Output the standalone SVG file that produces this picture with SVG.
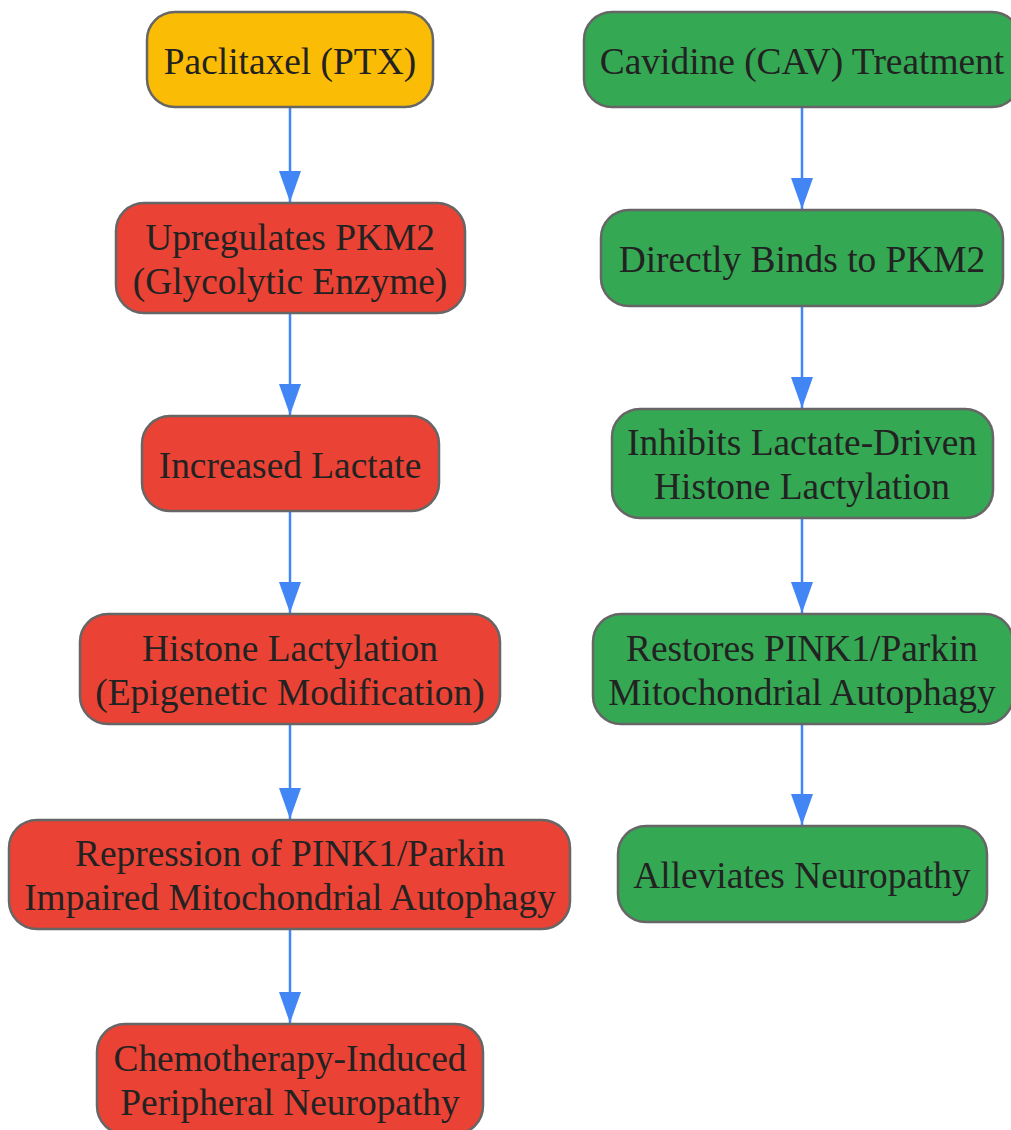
<svg xmlns="http://www.w3.org/2000/svg" width="1011" height="1130" viewBox="0 0 1011 1130">
<style>
.n rect{stroke:#666;stroke-width:2.5}
.y rect{fill:#FBBC05}
.r rect{fill:#EA4335}
.g rect{fill:#34A853}
.n text{font-family:"Liberation Serif","Times New Roman",serif;font-size:37.4px;fill:#222;text-anchor:middle}
.e line{stroke:#4285F4;stroke-width:2.5;marker-end:url(#ah)}
</style>
<defs>
<marker id="ah" markerUnits="userSpaceOnUse" markerWidth="32" markerHeight="22" refX="31" refY="11" orient="auto" viewBox="0 0 32 22">
<path d="M0,0 L31,11 L0,22 Z" fill="#4285F4"/>
</marker>
</defs>
<rect width="1011" height="1130" fill="#fff"/>
<g id="edges" class="e">
<line x1="290" y1="108" x2="290" y2="202"/>
<line x1="290" y1="314" x2="290" y2="415"/>
<line x1="290" y1="512" x2="290" y2="613"/>
<line x1="290" y1="725" x2="290" y2="819"/>
<line x1="290" y1="930" x2="290" y2="1023"/>
<line x1="802" y1="108" x2="802" y2="209"/>
<line x1="802" y1="307" x2="802" y2="408"/>
<line x1="802" y1="519" x2="802" y2="613"/>
<line x1="802" y1="725" x2="802" y2="825"/>
</g>
<g id="ptx" class="n y"><rect x="147" y="12" width="286" height="95" rx="28"/><text x="290" y="74">Paclitaxel (PTX)</text></g>
<g id="pkm2" class="n r"><rect x="116" y="203" width="349" height="110" rx="28"/><text x="290" y="250">Upregulates PKM2</text><text x="290" y="294">(Glycolytic Enzyme)</text></g>
<g id="lactate" class="n r"><rect x="142" y="416" width="297" height="95" rx="28"/><text x="290" y="478">Increased Lactate</text></g>
<g id="histone" class="n r"><rect x="80" y="614" width="420" height="110" rx="28"/><text x="290" y="661">Histone Lactylation</text><text x="290" y="705">(Epigenetic Modification)</text></g>
<g id="repression" class="n r"><rect x="9" y="820" width="561" height="109" rx="28"/><text x="290" y="866">Repression of PINK1/Parkin</text><text x="290" y="910">Impaired Mitochondrial Autophagy</text></g>
<g id="cipn" class="n r"><rect x="97" y="1024" width="386" height="110" rx="28"/><text x="290" y="1071">Chemotherapy-Induced</text><text x="290" y="1115">Peripheral Neuropathy</text></g>
<g id="cav" class="n g"><rect x="584" y="12" width="436" height="95" rx="28"/><text x="802" y="74">Cavidine (CAV) Treatment</text></g>
<g id="binds" class="n g"><rect x="601" y="210" width="402" height="96" rx="28"/><text x="802" y="272">Directly Binds to PKM2</text></g>
<g id="inhibits" class="n g"><rect x="612" y="409" width="381" height="109" rx="28"/><text x="802" y="455">Inhibits Lactate-Driven</text><text x="802" y="499">Histone Lactylation</text></g>
<g id="restores" class="n g"><rect x="593" y="614" width="420" height="110" rx="28"/><text x="802" y="661">Restores PINK1/Parkin</text><text x="802" y="705">Mitochondrial Autophagy</text></g>
<g id="alleviates" class="n g"><rect x="618" y="826" width="369" height="96" rx="28"/><text x="802" y="888">Alleviates Neuropathy</text></g>
</svg>
